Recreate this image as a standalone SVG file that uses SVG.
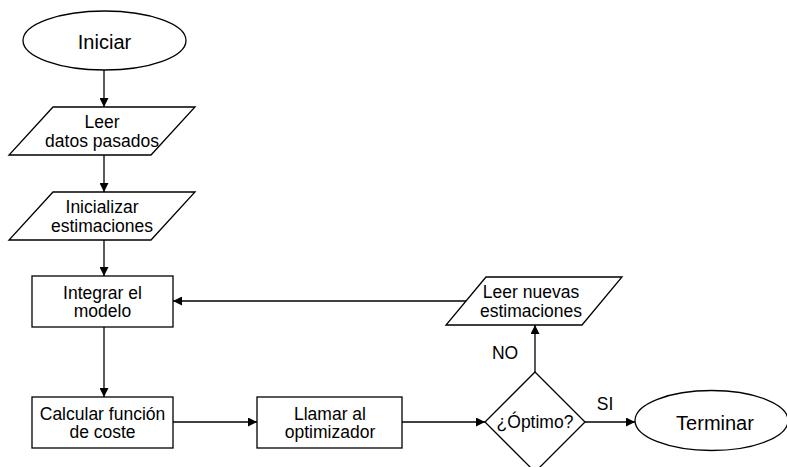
<svg xmlns="http://www.w3.org/2000/svg" width="787" height="467" viewBox="0 0 787 467">
  <style>
    .shape { fill: #ffffff; stroke: #000000; stroke-width: 1.3; }
    .edge { fill: none; stroke: #000000; stroke-width: 1.3; }
    text { font-family: "Liberation Sans", Arial, sans-serif; font-size: 17.5px; fill: #000000; text-anchor: middle; }
    .big { font-size: 20px; }
  </style>
  <defs>
    <marker id="arrow" viewBox="0 0 10 10" refX="10" refY="5" markerWidth="9" markerHeight="9" markerUnits="userSpaceOnUse" orient="auto">
      <path d="M0,0 L10,5 L0,10 Z" fill="#000000"/>
    </marker>
  </defs>

  <!-- connectors -->
  <g id="connectors">
    <path class="edge" d="M104,70 V107" marker-end="url(#arrow)"/>
    <path class="edge" d="M104,155 V192" marker-end="url(#arrow)"/>
    <path class="edge" d="M104,240 V276" marker-end="url(#arrow)"/>
    <path class="edge" d="M104,327 V397" marker-end="url(#arrow)"/>
    <path class="edge" d="M173,422 H257" marker-end="url(#arrow)"/>
    <path class="edge" d="M402,422 H485" marker-end="url(#arrow)"/>
    <path class="edge" d="M585,422 H635" marker-end="url(#arrow)"/>
    <path class="edge" d="M535,372 V325" marker-end="url(#arrow)"/>
    <path class="edge" d="M467,301 H173" marker-end="url(#arrow)"/>
    <text x="505" y="359">NO</text>
    <text x="605" y="410">SI</text>
  </g>

  <!-- start -->
  <g id="start">
    <ellipse class="shape" cx="104.5" cy="40.5" rx="81.5" ry="29.5"/>
    <text class="big" x="104.5" y="49">Iniciar</text>
  </g>

  <!-- read past data -->
  <g id="read-data">
    <polygon class="shape" points="53,107 195,107 151,155 9,155"/>
    <text x="102" y="128">Leer</text>
    <text x="102" y="146.5">datos pasados</text>
  </g>

  <!-- initialise estimates -->
  <g id="init-estimates">
    <polygon class="shape" points="53,192 195,192 151,240 9,240"/>
    <text x="102" y="213">Inicializar</text>
    <text x="102" y="231.5">estimaciones</text>
  </g>

  <!-- integrate model -->
  <g id="integrate">
    <rect class="shape" x="32" y="276" width="141" height="51"/>
    <text x="102.5" y="298.5">Integrar el</text>
    <text x="102.5" y="317">modelo</text>
  </g>

  <!-- cost function -->
  <g id="cost">
    <rect class="shape" x="32" y="397" width="141" height="51"/>
    <text x="102.5" y="419.5">Calcular función</text>
    <text x="102.5" y="438">de coste</text>
  </g>

  <!-- optimizer call -->
  <g id="optimizer">
    <rect class="shape" x="257" y="397" width="145" height="51"/>
    <text x="330" y="419.5">Llamar al</text>
    <text x="330" y="438">optimizador</text>
  </g>

  <!-- decision -->
  <g id="decision">
    <polygon class="shape" points="535,372 585,422 535,472 485,422"/>
    <text x="535" y="428">¿Óptimo?</text>
  </g>

  <!-- read new estimates -->
  <g id="new-estimates">
    <polygon class="shape" points="486,277 622,277 582,325 446,325"/>
    <text x="531" y="298">Leer nuevas</text>
    <text x="531" y="316.5">estimaciones</text>
  </g>

  <!-- end -->
  <g id="end">
    <ellipse class="shape" cx="711.5" cy="420.5" rx="76.5" ry="30"/>
    <text class="big" x="715" y="430">Terminar</text>
  </g>
</svg>
